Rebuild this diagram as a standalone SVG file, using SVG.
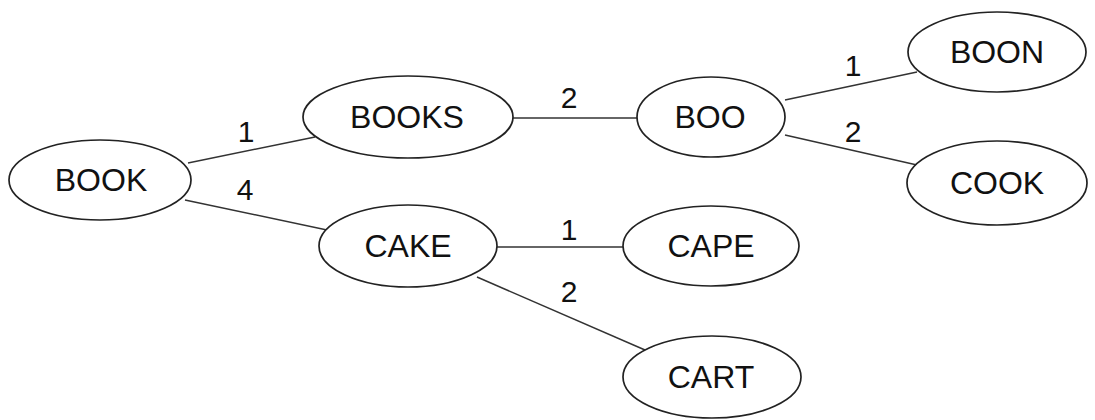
<svg xmlns="http://www.w3.org/2000/svg" width="1095" height="420" viewBox="0 0 1095 420">
<style>
.n ellipse{fill:#fff;stroke:#222;stroke-width:1.7}
.n text{font-family:"Liberation Sans",Arial,sans-serif;font-size:32px;fill:#111;text-anchor:middle}
#edges line{stroke:#333;stroke-width:1.5}
#edges text{font-family:"Liberation Sans",Arial,sans-serif;font-size:30px;fill:#111;text-anchor:middle}
</style>
<rect width="1095" height="420" fill="#fff"/>
<g id="edges">
<line x1="188" y1="163" x2="315" y2="137"/>
<line x1="185" y1="200" x2="327" y2="230"/>
<line x1="513" y1="118" x2="637" y2="118"/>
<line x1="785" y1="100" x2="917" y2="72"/>
<line x1="785" y1="135" x2="917" y2="165"/>
<line x1="496" y1="247" x2="624" y2="247"/>
<line x1="477" y1="277" x2="645" y2="350"/>
<text x="246" y="142">1</text>
<text x="245" y="200">4</text>
<text x="569" y="108">2</text>
<text x="853" y="76">1</text>
<text x="853" y="142">2</text>
<text x="569" y="240">1</text>
<text x="569" y="302">2</text>
</g>
<g id="BOOK" class="n"><ellipse cx="100" cy="180" rx="91" ry="40"/><text x="101" y="191">BOOK</text></g>
<g id="BOOKS" class="n"><ellipse cx="408" cy="117" rx="105" ry="41"/><text x="407" y="128">BOOKS</text></g>
<g id="BOO" class="n"><ellipse cx="711" cy="117" rx="74" ry="40"/><text x="710" y="128">BOO</text></g>
<g id="BOON" class="n"><ellipse cx="997" cy="52" rx="89" ry="40"/><text x="997" y="63">BOON</text></g>
<g id="COOK" class="n"><ellipse cx="997" cy="183" rx="90" ry="42"/><text x="997" y="194">COOK</text></g>
<g id="CAKE" class="n"><ellipse cx="408" cy="246" rx="89" ry="41"/><text x="408" y="257">CAKE</text></g>
<g id="CAPE" class="n"><ellipse cx="711" cy="246" rx="88" ry="40"/><text x="711" y="257">CAPE</text></g>
<g id="CART" class="n"><ellipse cx="712" cy="377" rx="89" ry="41"/><text x="711" y="388">CART</text></g>
</svg>
